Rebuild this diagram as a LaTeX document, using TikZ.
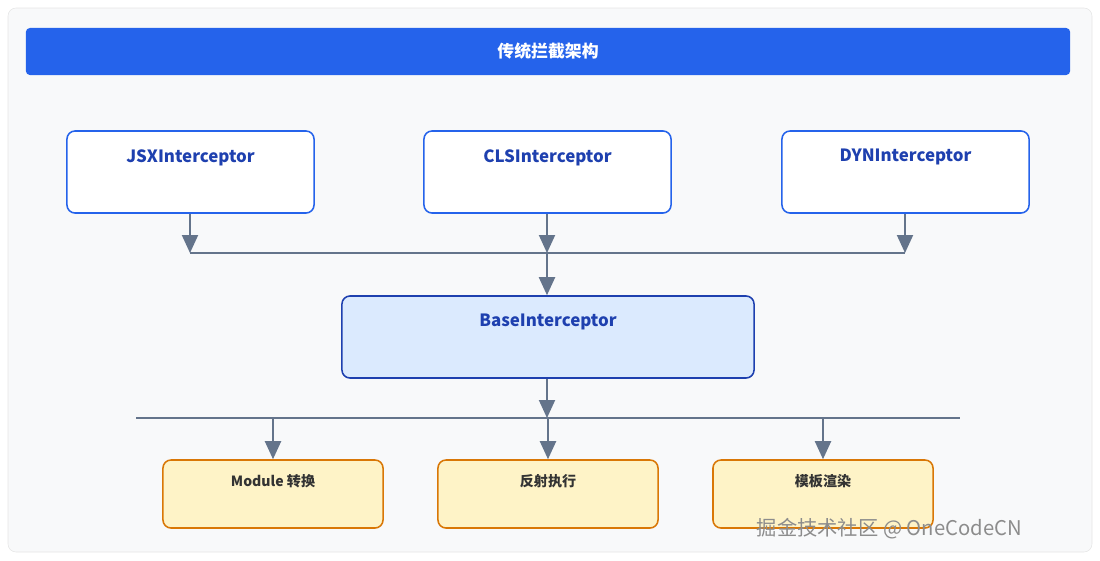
\documentclass[tikz,border=0pt]{standalone}
\usepackage{fontspec}
\setmainfont{Noto Sans CJK SC}
\usepackage{tikz}
\usetikzlibrary{positioning, arrows.meta, calc}
\definecolor{arBlue}{HTML}{2563EB}
\definecolor{arNavy}{HTML}{1E40AF}
\definecolor{arSky}{HTML}{DBEAFE}
\definecolor{arOrange}{HTML}{D97706}
\definecolor{arCream}{HTML}{FEF3C7}
\definecolor{arSlate}{HTML}{64748B}
\definecolor{arInk}{HTML}{333333}
\definecolor{arBack}{HTML}{F8F9FA}
\tikzset{
    base/.style={
        font=\sffamily,
        align=center
    },
    caller/.style={
        base,
        rectangle,
        rounded corners=2mm,
        draw=arBlue,
        line width=1.1pt,
        fill=white,
        minimum width=6.175cm,
        minimum height=2.05cm
    },
    core/.style={
        caller,
        draw=arNavy,
        fill=arSky,
        minimum width=10.3cm
    },
    target/.style={
        base,
        rectangle,
        rounded corners=2mm,
        draw=arOrange,
        line width=1.1pt,
        fill=arCream,
        minimum width=5.5cm,
        minimum height=1.7cm
    },
    bigtitle/.style={
        font=\large\bfseries,
        text=arNavy,
        anchor=center,
        yshift=-0.68cm
    },
    smalltitle/.style={
        font=\bfseries,
        text=arInk,
        anchor=center,
        yshift=-0.55cm
    },
    flow/.style={
        -{Triangle[length=4.5mm, width=4mm]},
        line width=1.4pt,
        color=arSlate
    },
    rail/.style={
        line width=1.4pt,
        color=arSlate
    }
}
\begin{document}
\begin{tikzpicture}[x=0.025cm, y=-0.025cm]
  \useasboundingbox (0,0) rectangle (1100,560);
  % Background and header
  \draw[rounded corners=2mm, draw=black!10, fill=arBack] (8,8) rectangle (1092,552);
  \node[base, rectangle, rounded corners=1mm, fill=arBlue, minimum width=26.1cm, minimum height=1.175cm,
        text=white, font=\large\bfseries] (header) at (548,51.5) {传统拦截架构};

  % Callers
  \node[caller, label={[bigtitle, name=jsxT]north:JSXInterceptor}] (jsx) at (190.5,172) {};
  \node[caller, label={[bigtitle, name=clsT]north:CLSInterceptor}] (cls) at (547.5,172) {};
  \node[caller, label={[bigtitle, name=dynT]north:DYNInterceptor}] (dyn) at (905.5,172) {};

  % Core
  \node[core, label={[bigtitle, name=baseT]north:BaseInterceptor}] (base) at (548,337) {};

  % Targets
  \node[target, label={[smalltitle, name=modT]north:Module 转换}] (mod) at (273,494) {};
  \node[target, label={[smalltitle, name=refT]north:反射执行}] (ref) at (548,494) {};
  \node[target, label={[smalltitle, name=tplT]north:模板渲染}] (tpl) at (823,494) {};

  % Rails
  \coordinate (upL) at (190,253);
  \coordinate (upR) at (905,253);
  \coordinate (upM) at (547,253);
  \coordinate (loL) at (136,418);
  \coordinate (loR) at (960,418);
  \coordinate (loM) at (547,418);
  \draw[rail] (upL) -- (upR);
  \draw[rail] (loL) -- (loR);

  % Connections
  \draw[flow] (jsx.south -| upL) -- (upL);
  \draw[flow] (cls.south -| upM) -- (upM);
  \draw[flow] (dyn.south -| upR) -- (upR);
  \draw[flow] (upM) -- (base.north -| upM);
  \draw[flow] (base.south -| loM) -- (loM);
  \draw[flow] (loM -| mod) -- (mod.north);
  \draw[flow] (loM -| ref) -- (ref.north);
  \draw[flow] (loM -| tpl) -- (tpl.north);

  % Watermark
  \node[base, font=\Large, text=black!45, anchor=west] (mark) at (752,529) {掘金技术社区 @ OneCodeCN};
\end{tikzpicture}
\end{document}
